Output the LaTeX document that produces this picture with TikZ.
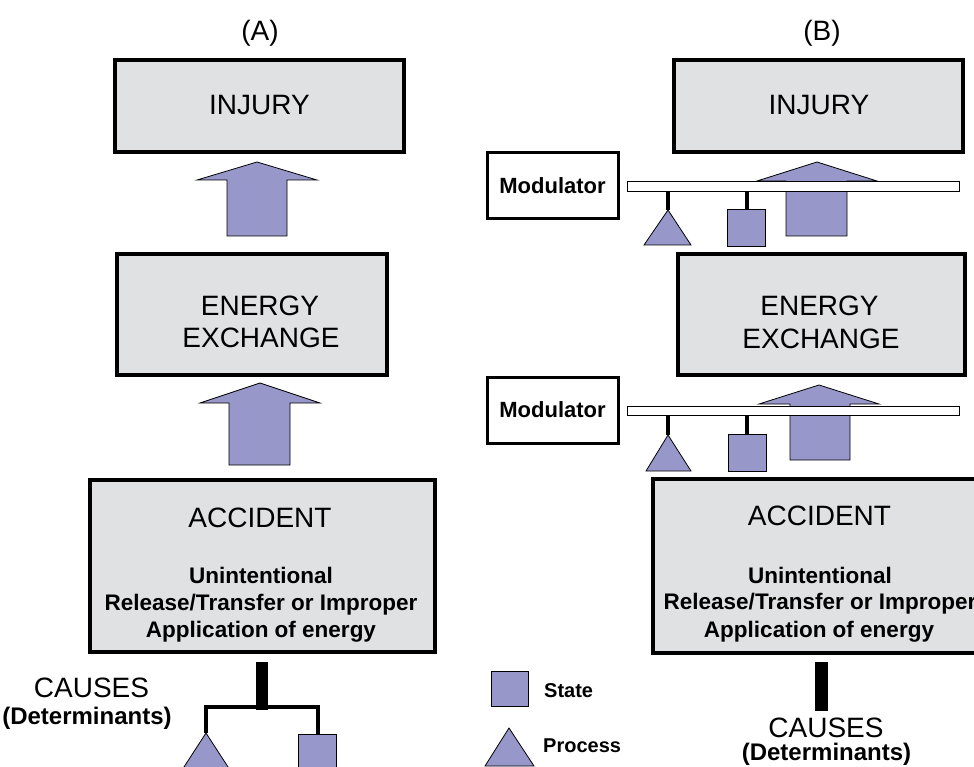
\documentclass[tikz,border=0pt]{standalone}
\usepackage{fontspec}
\setmainfont{Liberation Sans}
\definecolor{boxgray}{RGB}{224,225,227}
\definecolor{lilac}{RGB}{151,151,202}
\tikzset{
  bigtext/.style={font=\fontsize{28}{33}\selectfont, inner sep=0pt, anchor=base},
  boldtext/.style={font=\fontsize{22.5}{27}\selectfont\bfseries, inner sep=0pt, anchor=base},
  detext/.style={font=\fontsize{24}{28}\selectfont\bfseries, inner sep=0pt, anchor=base},
  legtext/.style={font=\fontsize{20}{24}\selectfont\bfseries, inner sep=0pt, anchor=base west},
  mainbox/.style={draw=black, line width=3.5pt, fill=boxgray, inner sep=0pt},
  modbox/.style={draw=black, line width=3pt, fill=white, inner sep=0pt,
    font=\fontsize{22}{26}\selectfont\bfseries, minimum width=131pt, minimum height=66pt},
  beambox/.style={draw=black, line width=1pt, fill=white, inner sep=0pt, minimum width=332pt},
  purplefill/.style={draw=black, line width=0.8pt, fill=lilac},
  sqnode/.style={purplefill, inner sep=0pt, minimum width=38pt, minimum height=37pt},
  stemline/.style={draw=black, line width=4pt},
  forkline/.style={draw=black, line width=4pt},
  causebar/.style={fill=black, inner sep=0pt, minimum width=12pt, minimum height=48pt}
}
\begin{document}
\begin{tikzpicture}[x=1pt, y=-1pt]
\useasboundingbox (0,0) rectangle (974,767);
\clip (0,0) rectangle (974,767);

% headings
\node[bigtext] (hA) at (260,41) {(A)};
\node[bigtext] (hB) at (822,41) {(B)};

% ---------- (A) ----------
\node[mainbox, minimum width=289pt, minimum height=92pt] (injA) at (259.5,106) {};
\node[bigtext] (injAt) at (259.5,115) {INJURY};

\draw[purplefill] (257,162) -- (317,180) -- (287,180) -- (287,236) -- (227,236) -- (227,180) -- (197,180) -- cycle;

\node[mainbox, minimum width=270pt, minimum height=121pt] (eneA) at (252,314.5) {};
\node[bigtext] (eneAt1) at (260,315) {ENERGY};
\node[bigtext] (eneAt2) at (261,347) {EXCHANGE};

\draw[purplefill] (260,383) -- (320,403) -- (290,403) -- (290,465) -- (229,465) -- (229,403) -- (200,403) -- cycle;

\node[mainbox, minimum width=345pt, minimum height=172pt] (accA) at (262.5,566) {};
\node[bigtext] (accAt) at (260,527) {ACCIDENT};
\node[boldtext] (accA1) at (261,583) {Unintentional};
\node[boldtext] (accA2) at (261,610) {Release/Transfer or Improper};
\node[boldtext] (accA3) at (261,637) {Application of energy};

% causes (A)
\node[causebar] (barA) at (262,686) {};
\coordinate (forkA) at (262,707);
\coordinate (triAtop) at (206,733);
\node[sqnode, minimum height=45pt, anchor=north] (sqA) at (317.5,734) {};
\draw[forkline] (triAtop) -- (triAtop |- forkA) -- (sqA.north |- forkA) -- (sqA.north);
\draw[purplefill] (triAtop) -- (230,770) -- (182,770) -- cycle;
\node[bigtext] (causA) at (91.5,697) {CAUSES};
\node[detext] (detA) at (87,724) {(Determinants)};

% ---------- (B) ----------
\node[mainbox, minimum width=289pt, minimum height=92pt] (injB) at (818.5,106) {};
\node[bigtext] (injBt) at (819,115) {INJURY};

% modulator 1
\node[modbox] (mod1) at (552.5,186) {Modulator};
\draw[purplefill] (817,162) -- (877,181) -- (847,181) -- (847,236) -- (786,236) -- (786,181) -- (757,181) -- cycle;
\node[beambox, minimum height=10pt] (beam1) at (793,187) {};
\coordinate (tri1top) at (668,210);
\draw[stemline] (tri1top |- beam1.south) -- (tri1top);
\draw[purplefill] (tri1top) -- (691,245) -- (644,245) -- cycle;
\node[sqnode] (sq1) at (746.5,228) {};
\draw[stemline] (sq1.north |- beam1.south) -- (sq1.north);

\node[mainbox, minimum width=287pt, minimum height=121pt] (eneB) at (821.5,314.5) {};
\node[bigtext] (eneBt1) at (819.5,315) {ENERGY};
\node[bigtext] (eneBt2) at (821,348) {EXCHANGE};

% modulator 2
\node[modbox] (mod2) at (552.5,410) {Modulator};
\draw[purplefill] (819,385) -- (879,404) -- (850,404) -- (850,460) -- (790,460) -- (790,404) -- (759,404) -- cycle;
\node[beambox, minimum height=9pt] (beam2) at (793,410.5) {};
\coordinate (tri2top) at (668,435);
\draw[stemline] (tri2top |- beam2.south) -- (tri2top);
\draw[purplefill] (tri2top) -- (691,471) -- (646,471) -- cycle;
\node[sqnode] (sq2) at (747,453) {};
\draw[stemline] (sq2.north |- beam2.south) -- (sq2.north);

\node[mainbox, minimum width=333pt, minimum height=174pt] (accB) at (819.5,566) {};
\node[bigtext] (accBt) at (819.5,525) {ACCIDENT};
\node[boldtext] (accB1) at (820,583) {Unintentional};
\node[boldtext] (accB2) at (820,609) {Release/Transfer or Improper};
\node[boldtext] (accB3) at (819,637) {Application of energy};

% causes (B)
\node[causebar, minimum width=13pt, minimum height=49pt] (barB) at (821.5,686.5) {};
\node[bigtext] (causB) at (826,737) {CAUSES};
\node[detext] (detB) at (826.5,760) {(Determinants)};

% legend
\node[sqnode, minimum width=37pt, minimum height=35pt] (legsq) at (509.5,688.5) {};
\node[legtext] (legstate) at (544,697) {State};
\coordinate (legtri) at (509,728);
\draw[purplefill] (legtri) -- (534,766) -- (485,766) -- cycle;
\node[legtext] (legproc) at (543,752) {Process};
\end{tikzpicture}
\end{document}
